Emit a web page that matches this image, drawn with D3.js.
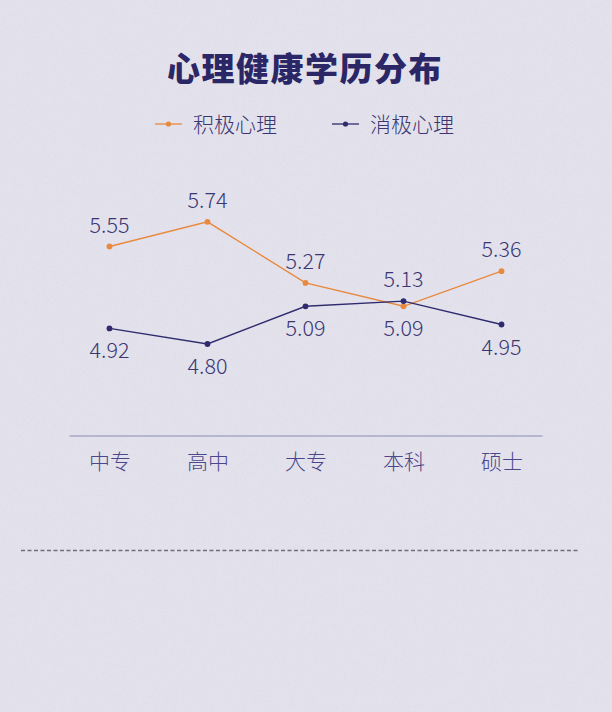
<html>
<meta charset="utf-8"></meta>
<script src="https://cdn.jsdelivr.net/npm/d3@7/dist/d3.min.js" charset="utf-8"></script>
<style>
body{margin:0;padding:0;background:#e4e3eb;}
svg{display:block;}
text{font-family:"Noto Sans CJK SC","Noto Sans",sans-serif;}
</style>
<body>
<svg id="chart"></svg>
<script type="text/javascript">
var categories = ["中专","高中","大专","本科","硕士"];
var positiveVals = [5.55,5.74,5.27,5.09,5.36];
var negativeVals = [4.92,4.80,5.09,5.13,4.95];
var seriesNames = ["积极心理","消极心理"];
var titleText = "心理健康学历分布";

var width = 612, height = 712;
var orange = "#e8893d", navy = "#2f2b6e";

var svg = d3.select("#chart").attr("width",width).attr("height",height);

// paper background with a bit of grain
var defs = svg.append("defs");
var f = defs.append("filter").attr("id","grain").attr("x",0).attr("y",0).attr("width","100%").attr("height","100%");
f.append("feTurbulence").attr("type","fractalNoise").attr("baseFrequency",0.9).attr("numOctaves",2).attr("seed",4);
f.append("feColorMatrix").attr("type","matrix")
	.attr("values","0 0 0 0 0.45  0 0 0 0 0.45  0 0 0 0 0.5  0 0 0 -1.6 0.75");
svg.append("rect").attr("width",width).attr("height",height).attr("fill","#e3e2ec");
svg.append("rect").attr("width",width).attr("height",height).attr("filter","url(#grain)").attr("opacity",0.25);

// title
svg.append("text").attr("x",305).attr("y",81).attr("text-anchor","middle")
	.attr("font-size",33).attr("font-weight",900).attr("letter-spacing",1.5).attr("fill","#2b2766")
	.text(titleText);

// legend
var legend = [
	{name:seriesNames[0],color:orange,x:155},
	{name:seriesNames[1],color:navy,x:332}
];
var lg = svg.selectAll("g.legend").data(legend).enter().append("g").attr("class","legend")
	.attr("transform",function(d){return "translate("+d.x+",124)";});
lg.append("line").attr("x1",0).attr("x2",27).attr("y1",0).attr("y2",0)
	.attr("stroke",function(d){return d.color;}).attr("stroke-width",1.3);
lg.append("circle").attr("cx",13.5).attr("cy",0).attr("r",2.6).attr("fill",function(d){return d.color;});
lg.append("text").attr("x",38).attr("y",8).attr("font-size",21).attr("font-weight",300)
	.attr("fill","#3a3672").text(function(d){return d.name;});

// scales
var x = d3.scalePoint().domain(categories).range([69,542]).padding(0.413);
var y = d3.scaleLinear().domain([4.5,6]).range([383,188]);

// axis
var axis = svg.append("g").attr("transform","translate(0,435.5)")
	.call(d3.axisBottom(x).tickSize(0).tickSizeOuter(0).tickPadding(19));
axis.select(".domain").attr("stroke","#8a88b8").attr("stroke-width",1.2);
axis.selectAll("text").attr("font-size",21).attr("font-weight",300).attr("fill","#4b478a")
	.style("font-family","'Noto Sans CJK SC',sans-serif");

// lines
var series = [
	{name:seriesNames[0],color:orange,values:positiveVals,other:negativeVals},
	{name:seriesNames[1],color:navy,values:negativeVals,other:positiveVals}
];
var line = d3.line().x(function(d,i){return x(categories[i]);}).y(function(d){return y(d);});

series.forEach(function(s){
	var g = svg.append("g");
	g.append("path").attr("d",line(s.values)).attr("fill","none")
		.attr("stroke",s.color).attr("stroke-width",1.4);
	g.selectAll("circle").data(s.values).enter().append("circle")
		.attr("cx",function(d,i){return x(categories[i]);})
		.attr("cy",function(d){return y(d);})
		.attr("r",2.9).attr("fill",s.color);
	// higher value of the pair labelled above, lower below
	g.selectAll("text").data(s.values).enter().append("text")
		.attr("x",function(d,i){return x(categories[i]);})
		.attr("y",function(d,i){return d>=s.other[i] ? y(d)-14 : y(d)+30;})
		.attr("text-anchor","middle").attr("font-size",21.5).attr("font-weight",300)
		.attr("fill","#3a3672")
		.text(function(d){return d.toFixed(2);});
});

// dashed separator
svg.append("line").attr("x1",21).attr("x2",578).attr("y1",550.5).attr("y2",550.5)
	.attr("stroke","#6e6e7c").attr("stroke-width",1.3).attr("stroke-dasharray","4,2.5");
</script>
</body>
</html>
